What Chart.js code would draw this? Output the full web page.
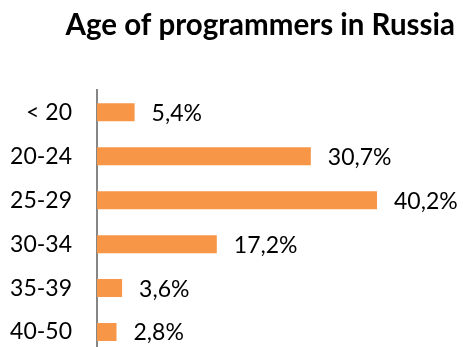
<!DOCTYPE html>
<html lang="en">
<head>
    <meta charset="UTF-8">
    <title>Age of programmers in Russia</title>
    <style>
        html, body {
            margin: 0;
            padding: 0;
            overflow: hidden;
            background: #fff;
        }
        #ageChart {
            display: block;
        }
    </style>
</head>
<body>
    <canvas id="ageChart" width="463" height="354"></canvas>

    <script src="https://cdn.jsdelivr.net/npm/chart.js"></script>
    <script>
        // age groups and share of programmers (%)
        const ageGroups = ['< 20', '20-24', '25-29', '30-34', '35-39', '40-50'];
        const shares = [5.4, 30.7, 40.2, 17.2, 3.6, 2.8];

        const FONT = 'Lato, "Open Sans", sans-serif';

        // writes "30,7%" next to the end of each bar
        const valueLabels = {
            id: 'valueLabels',
            afterDatasetsDraw(chart) {
                const ctx = chart.ctx;
                const meta = chart.getDatasetMeta(0);
                ctx.save();
                ctx.font = '23px ' + FONT;
                ctx.fillStyle = '#000';
                ctx.textAlign = 'left';
                ctx.textBaseline = 'middle';
                meta.data.forEach((bar, i) => {
                    const txt = shares[i].toFixed(1).replace('.', ',') + '%';
                    ctx.fillText(txt, bar.x + 17, bar.y + 1);
                });
                ctx.restore();
            }
        };

        new Chart(document.getElementById('ageChart'), {
            type: 'bar',
            data: {
                labels: ageGroups,
                datasets: [{
                    data: shares,
                    backgroundColor: '#F79646',
                    borderWidth: 0,
                    categoryPercentage: 0.41,
                    barPercentage: 1
                }]
            },
            options: {
                indexAxis: 'y',
                responsive: false,
                animation: false,
                layout: {
                    padding: { left: 0, right: 8, top: 8, bottom: 0 }
                },
                plugins: {
                    legend: { display: false },
                    tooltip: { enabled: false },
                    title: {
                        display: true,
                        text: 'Age of programmers in Russia',
                        align: 'end',
                        color: '#000',
                        font: { family: FONT, size: 29.5, weight: 'bold' },
                        padding: { top: 0, bottom: 47 }
                    }
                },
                scales: {
                    x: {
                        display: false,
                        min: 0,
                        max: 51.4
                    },
                    y: {
                        afterFit(scale) {
                            scale.width = 97;
                            // the bars run to the bottom edge, no room kept for labels
                            scale.paddingTop = 0;
                            scale.paddingBottom = 0;
                        },
                        grid: { display: false, drawTicks: false },
                        border: { display: true, color: '#868686', width: 2 },
                        ticks: {
                            color: '#000',
                            padding: 25,
                            font: { family: FONT, size: 23 }
                        }
                    }
                }
            },
            plugins: [valueLabels]
        });
    </script>
</body>
</html>
